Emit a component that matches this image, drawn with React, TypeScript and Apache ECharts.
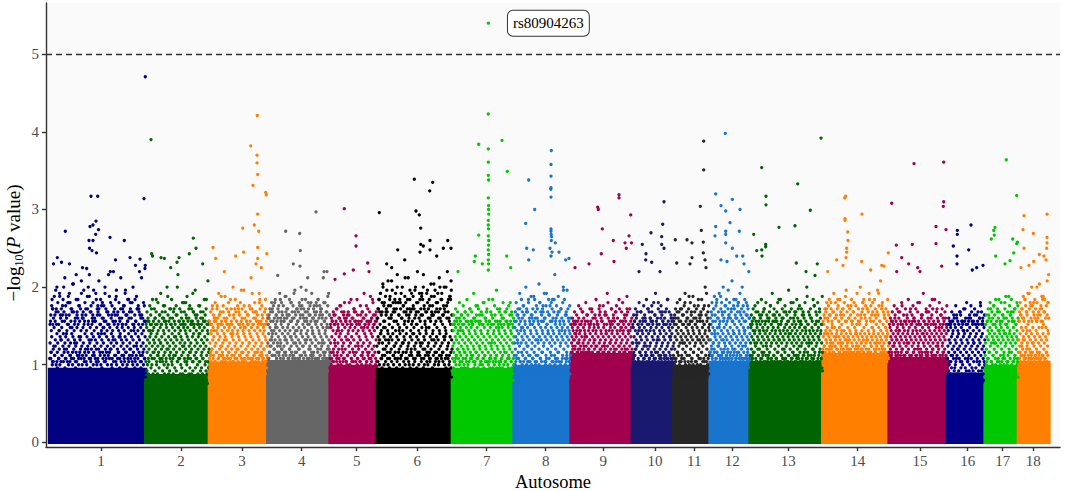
import React, { useEffect, useRef } from "react";
import * as echarts from "echarts";

// ---------- data ----------
const chrNames = ["1", "2", "3", "4", "5", "6", "7", "8", "9", "10", "11", "12", "13", "14", "15", "16", "17", "18"];
// relative chromosome lengths on the genome axis (axis units)
const chrLength = [96.2, 63.6, 58.4, 62.3, 46.7, 75.6, 61.7, 57, 61.3, 41, 36.7, 40, 72.7, 66.3, 58.3, 37.7, 33.3, 30.7];
// where each autosome label sits on the genome axis
const tickPos = [51.5, 131.5, 192.5, 252.2, 307.2, 367.8, 437.2, 496.2, 553.8, 605.5, 644.8, 682.8, 738.8, 808.2, 870.5, 918.2, 953.2, 983.8];
// height (-log10 P) up to which the SNP cloud is completely saturated
const bandTop = [0.96, 0.88, 1.04, 1.06, 1.0, 0.96, 0.96, 1.0, 1.15, 1.05, 1.0, 1.05, 1.05, 1.15, 1.1, 0.9, 1.0, 1.05];
// SNPs above the saturated band, in chromosome order; one character per SNP,
// character index in CODE_ALPHABET times 0.04 = -log10(P)
const CODE_ALPHABET = "0123456789ABCDEFGHIJKLMNOPQRSTUVWXYZabcdefghijklmnopqrstuvwxyz";
const cloudCodes = [
  "KMRTLPcQNKSVLhQOMKRaPNXLSfKQMUONRZLKTPjMQSKNbPLRMWKOTQgNLPSKMYRKPNeLQTNKSPMUoLRKOQXNKdPMSLRKUPNiQKMTLPZOKRNbSMQKTNPLsMRKNUPOKXQLMfSKPNRMTKOYLQKcPNSRMKTOLPkNQKUMRNKSPMaLOQKVNPRLhMKSOQKNTPMRuL",
  "IKNPJMQLaKOJRIMLTKNcJPKMSIOLQWKIRNJePMLKQJOIUMKNRhLKPJMSIOKYNJQLKbIRMPJOKMIVLQNjKPIRLMJOTKMJQNgKLIORJKPMLZIQNKOJMRKLdPINKMJQOT",
  "MOSQUNPRLaNQMTPOeRMSPNVQMOSRNXOMQPcNRMTPQNOMSPZQNMROPNUMQhOSNMPRQOTNbMPQONSMRPWNMOQPNRgMSOQNPMTOQRNkOMPSQNRUNPMQOSR",
  "NPRTVQOXSZPNUQSbORTWQPSNVRdOUQNRPTXQSOfPRQNUSPYTORPSQNRWOTaQNUPRSQhPOVQRNTPSOXQcPNRQUSOTRZSQPNRVOiQTNRQPSUOWPRQNSPTRObQNRPUS",
  "LNPRMOTQNWMOLQSNPaRMNLPOUMQRNeOMQLPSNXOMPLNRQOMTNgMOQNLPRVMONQLOPSMRNbLOMPQNTOLRNPMOQLSjNMOLPNQ",
  "KNQTWPMZRLOSKbPNUQgMLRPXKOTNeQMKSPVNRjLOQNKTaPMRSKNOWQLdPKTMRKNQPhOLUSKMPZNQRKcOLTNPKSWMQmNKORPUMLbQKPSNTQRMKfOLNXPKQRTNMKPQSoNLRKTQNMPYKOSLNRKPQMkOLU",
  "KMOQNLRPSKNUMKPQaLOMKRNPOTLMQKOPXKNMRLSdMKQONPLTKRNOKMVPQLNKPRMOKSQNgLKNPMQOLRWKMOKNPRLQSONKMbPOLQRKOMNPKTLQNMKPOMRNjLQOMNKP",
  "LNPQSMOWKRNMQOLTPbNQOLRNMPVQLSMOQNLPeRMONLQPSOMXNLPMORNQLTiOMLNPQROMZLNOPMLSQkNMOLPRNQMOTLQNMPOLaRNoMOLPNQSRNLOQMPR",
  "PRTVQSXUPZRQSTPWQUaRSPTQRVPYTQQSRPUTcQSPRTQSPXRQVSPQSRTfQPURSQPRTVQSZPQRSPTQWRPhSPRQTUQSRPRSQPVTQbRSPQRTSPUQRlQSPRTQRPSU",
  "NPRSOQUMWPORNQTPMSaOQNPROSMVQPNOQRPeMSOQPNRQOTNMXPQONRPSMQgNOPRNQSPMORNQPOYRMQPN",
  "LNPRQOMTLSNPOMQRLWNOMQPLOSNcMPOLNQRMPTOLQMNOPSLRXNPLMOQNRiOMNQLPOMSN",
  "NPSURQWOTZQNRTPVSObQRPNSTQXOURPQSNRTeQPWSNQPRUOZTQNRQSPiOTRPQSNRPVQOaRPNSQRTOQPS",
  "NPRQSOTMPWORNQPUSMOaQNPROSMTQNPOVNQRSMOPNQROPdMSQNOPRNQTMXPOQNSPROMUQNRPOQNSMZOPNQPROTMSgNOQRPNSMVOQPNQROSMTPbQONRPSMWQNOPRNQUMSOPNQPORYMTQNPRON",
  "PRTVQSXUPZSQUTPWRVbQTPRSVQYUPRQSTPRWUaSQRTPSQVXPUTSQRPUTdQSRPTSQRVZPUSQRTPSWQUhRTQSPRUXQTSPRQSTVQbPRSQTPUWRQSmQRPSTVQUPRTSQPRYQSTR",
  "OQSPRTNVOQPRNSQXOTPaQOSPRUNQORPSOQTNWROPQRNOSPdQTOPNQRSOUPQNRSOPQTNZORPQOSNRTPgQOQRPSNUOQRNPSQORVPbOQRPONSTQROPQSNO",
  "JLNPKMQOJSLKNOPJRMUKNLJQOKMPaLKMOJNLQRKNPJLMOKNWLJMOKQJLNPeKLNJOMKQP",
  "LNPQMORLTNOMQLPSNWMOPLNQORMaNPMOQLNSPRMZNLPOQMTNfLOPMQNLRSOMNPQL",
  "NPRTQOVSNXOQSPRNUaPQRNOTQSPWNRPQOSNRdTOQSPNQRObPSNQROPNTQSjP",
];
// a second, higher-lying sweep of SNPs along each autosome (same coding)
const cloudCodesUpper = [
  "RWdTaYkQhUVbSfXnPcZTWgRaUlYeQXbSiVZoTdWRYfUaQjXcVmSbWhRZgTYpUaXdQVkWbSecRYiTXUaqVfSbWnRdZUhQaYlVcTXsWbRgUZeSjYTaVdXmQbWfRZUhYcSkVaXeTbWiQZoUdRYaVgSXcTbUjWZfRaYtVcSXdQlWbUgTaYeRZhVXSbcWiUaQYnfTXVdRbZeSWjUaYgQcXTVbRkZdSWhUaYcTXfQbVrZSeWaUiRYd",
  "QVbTXdRaUWYcSZhPVaTXbRWeUYkQZSVaTXfRbWcUYgQVaSZiTXdRbUWlPYaSVeTXcQZbRWUhYaSVfTXoQbRZdUWaYgSXVcTbjRWaUZeQYbSXhVTaRWdUcYmQZbSVfXTaRWcUYiQbZVeSXTaRgWUbYdQVkSXaZcTU",
  "RWcTZaUhXbSYdVQeWaTiZbRXfUYcSlVaTWgQZbRYdUXeSaVjTbWcRZhUYaQXfSbVkTWdRZaUYgXcSbVnTeWaQZiRYbUXdScVfTaWZhRYbUmQXcSVaTeWgRZbUYdXjSaVcTWfRZbUaQYhXcSVe",
  "WcZeTbXgVaYhSdWaUjXcZfRbVeYiTaXkWcUgZbSdVeYaTlXhWbZcRfUaYjVdXeSbWmZgTaYcVhRdXbUiWfZaSkYcVeTbXgWnZdRaYhUcVfXjSbWaZeTiYdVcXgRbUkWaZfShYcVeXbTjWdZaRgYcUlVbXfT",
  "RWbTYdQaUfSXcVZhRaTWbUYeQZiSXaVcTWgRbUYdQXfSZaVjTbWcRYeUaQXhSbVdTZkRWaUYcQXfSbVgTaWeRZcUYiQXbSVdTaWlRZeUYbScVaTfRXd",
  "VbeYhTkXcmZaRgWpUdYjSbXfVnTaZiWcRlYeUqXbZgSdVkTaWhYoRcXfUbZjVmSeWaTiYcXrRgZbUkVdWfSnYaTcXhZlRbVeUoWgYcSjXaTmZdVfRbWkUsYhXcSaZgTnVeWbRiYdUlXfZaSpVcTgWjYbRmXeUaZhVdSkWcTfYoXbRaZiUtVgWeSlYcTnXa",
  "RVaTWcQYbSXdUZaRWeTYbSVfQXaUZcTWgRYbSVdUXaQZhTWbRYcSVeUXaQZiTWbRYdSVfUXaQZcTWjRYbSVeUXgQZaTWdRYbSVcUXkQZaTWfRYbSVdUXaQZhTWcRYbSVeUXaQZgTWdRYbSVcUXaQZfTWbRY",
  "SWbUYdRaXfTZcVhQaWbYeSXiUaZcRWgTYbVkQXdSaZfUWcRYlTbVeXaQZhSWcUYjRbXdTaZgVWeQYbSmXcUaZfRWiTYbVdXaQZkSWcUeYbRXgTaZdVWhQYbSXnUcZaRWfTYbVeXaQZcS",
  "TWYbUaXcSZVdRYaTWbUeXZaSVcTYgRWbUXaZdSVYTfRWaUbXZcSVhTYaRWbUXeZaSVcTYbRWiUXaZdSVTYbRWfUXaZcSVjTYaRWbUXdZaSVeTYbRWgUXaZcSVkTYaRWbUXdZaSVfTYbRWhUXaZcSVaTYbRW",
  "RWbTYdSaUXfVZcQaWbTYgSXaUZdRVbWeTYaSXhUZcRVaWbTiYdSXaUZfRVbWcTYjSXaUZeRVbWdTYaSXgUZcRVkWbTYaSXeUZbRV",
  "SWcUYeRaXgTZbVdQWhYaSXfUZcRWjTYbVeXaQZlSWdUYgRbXaTZiVcWeQYbSXkUaZdRWfTYbVhXcQZaSWmUYeRbXaT",
  "TXcVZfSbWhUaYdRXjTbZeVWcSYlUaXgRZdTbWiVYcSXaUnZfRWbTYhVdXaSkZcUWeRYbTXjVaZgSWcUYoRXbTdZaVWfSYiUbXeRZ",
  "SWbUYcRaXeTZaVdQWbYgSXaUZcRWfTYbVaXhQZdSWaUYbRXeTZiVcWaQYbSXfUZaRWdTYbVkXaQZcSWeUYaRXbTZgVcWaQYdSXbUZjRWaTYeVXbQZcSWaUYhRXbTZdVcWaQYfSXbUZaRWlTYcVXaQZeSWbUYaRXiTZcVdWaQYbSXgUZaRWcT",
  "UYcVZeTaXhWbZdSYfVaXjUZcRWgTYbVXeSZaUkWdYbTXfVZcRWhUYaSXlTZdVWbYeUXaRZiTWcVYgSXbUZaRWmTYdVXcSZfUWaYjTXbVZeRWcYhSXaUZkTWdVYbXgRZaUWfTYcVXnSZbUWdYaTXiVZcRWeUYbSXaTZgVW",
  "TWbUYaSXdRZcVWeTYaUXbSZgRWaVYcTXiUZbSWaRYdVXfTZaUWbSYhRXcVZaTWeUYbSXaRZjVWcTYaUXfSZbRWdVYaTXgUZcSWbRYaVXeTZkUWcSYaRXbVZhTWdUYaSXfRZbVWcTYaUXeSZbR",
  "RVaTXcQWbSYdUZaRVeTXbQWfSYaUZcRVgTXbQWdSYaUZhRVcTXaQWeSYbUZiRVdTXaQWfSYcUZbRVgTXaQWjSYcUZeRVbTX",
  "SWcUYdRaXfTZbVhQWaYeSXiUZcRWbTYgVaXkQZdSWbUYfRXaTZjVcWeQYbSXlUZaRWgTYdVXbQZhSWcUYaRXe",
  "TXdVZfSbWhUaYeRXkTbZgVWcSYmUaXiRZdTbWjVYeSXaUoZfRWbTYhVdXlSkZcUWgRYbTXqVaZe",
];
// the sparse top of the cloud: a third sweep of SNPs (same coding)
const cloudCodesTop = [
  "cfiheldgojcmfhdkgrieclfjdhpgcesfkidhmegcjfuhdlgicfnedkhgqfcijedmhgcflteidghknfcjdrehgimcfdkghejocfdlhigxefcjdv",
  "cgedifckdhegcjdfmceidgcofdhckegdcifsdhcejdgcfldeichdgcnefdcigcedkfhcqd",
  "dgcifejdhcmfgdcieldhcgfkdcoehgdicfjdhcnegdfcidrhcejgdfcmhdiecgkdf",
  "efhdjgiekfdhgmejfidlgehfkdjgienfhdgjeoifhdkegjfidmehgfjdkeighfrdjegimf",
  "cedgcfdhceidgcfjdecgfdkcehdgcfdcidgemcfdhcgdekfcdg",
  "ehkgmfjoidlhgqekifnjhgmdsjfkheoigljfhrekgmdihnfjtgekhlfoidgmjhkepgiflndhjgrekmfihgoejkdlqf",
  "cfdhegcjdfciegdkfchdgcmedfihcdgfcjedhckdgfecidnhcgdfejcgdhcifdgce",
  "dgjfhemdkgifdohgjeclfhdkgiedpjgfhdmeicgkfdjhegsdiflgchejdkfgnhdie",
  "cedgcfdichdgecjfdchdgecfkdchgedicgfmedchcfdgiechdgjcedfgchde",
  "cfdhegcjdgceifdkchgedgcjfmdehcgifdcechkdgcfde",
  "dfhcjegkdhcfimdgehcjfdlegchdifegkdhcofdgic",
  "egjdhlfikegmdhjfoegikdhfjegqdihfkegjdmfheigkdjfhte",
  "cfdheigcjdfekdghcjfedgicmfhdegjcfkdhegicfdngehcjdfgkedichfgejdocgfhedkicgfjdhecl",
  "dfhgjeikfhdgmejfhidkgehfjdngiehfkdgjeicfhdoegjkfidhgmeifjdkhegfidqhjgfehdkf",
  "cedgcifdhcegdjcfdhcekdgcfiedhcgdjcefmdchgedicfhdkcgedjcfhedgci",
  "cedcgdfciedcgfdchdejcdfegcdhcfdceigdcf",
  "cfdhejdgcifkdhegcjdfehlcgdifkegdhcji",
  "dgjfheldkigfmdhjeoigfkhdjegpfihdlgkeifjs",
];
// stand-out SNPs: [autosome, position within autosome, -log10(P)]
const peaks: [number, number, number][] = [
  [1, 95.8, 4.71], [1, 94.5, 3.14], [1, 41.5, 3.17], [1, 48.2, 3.17], [1, 46.5, 2.85], [1, 40.5, 2.78], [1, 43.5, 2.8], [1, 49, 2.74],
  [1, 46.2, 2.68], [1, 15.8, 2.72], [1, 60.5, 2.64], [1, 74.8, 2.6], [1, 39.5, 2.6], [1, 43.5, 2.6], [1, 40, 2.5], [1, 42.5, 2.47],
  [1, 47, 2.44], [1, 7.8, 2.38], [1, 80.5, 2.38], [1, 4, 2.3], [1, 12, 2.32], [1, 20, 2.3], [1, 66, 2.35], [1, 86, 2.28], [1, 90, 2.2], [1, 33, 2.25],
  [2, 5.3, 3.9], [2, 47.6, 2.63], [2, 50.3, 2.5], [2, 6, 2.43], [2, 6.8, 2.4], [2, 15.3, 2.38], [2, 18.6, 2.37], [2, 43.6, 2.43],
  [2, 31.3, 2.32], [2, 33.3, 2.38], [2, 57, 2.3], [2, 25, 2.25],
  [3, 48, 4.21], [3, 41.4, 3.82], [3, 47.7, 3.7], [3, 47.7, 3.6], [3, 48.4, 3.45], [3, 43.7, 3.31], [3, 56.4, 3.22], [3, 57, 3.19],
  [3, 48.4, 2.94], [3, 45, 2.8], [3, 49.4, 2.72], [3, 33.4, 2.76], [3, 3.7, 2.51], [3, 6.4, 2.37], [3, 48.4, 2.51], [3, 57.5, 2.43],
  [3, 26.4, 2.4], [3, 34.4, 2.45], [3, 48.4, 2.37], [3, 46.7, 2.3], [3, 52, 2.25], [3, 15, 2.2],
  [4, 18, 2.72], [4, 32, 2.69], [4, 32.6, 2.47], [4, 25.6, 2.3], [4, 32.3, 2.27], [4, 48.3, 2.97], [4, 56.3, 2.2], [4, 59.3, 2.2], [4, 10, 2.15], [4, 40, 2.12],
  [5, 14.3, 3.01], [5, 26, 2.66], [5, 26, 2.53], [5, 37.7, 2.31], [5, 39, 2.2], [5, 23.3, 2.22], [5, 14.3, 2.17], [5, 5, 2.1],
  [6, 2.6, 2.96], [6, 37.6, 3.39], [6, 56, 3.35], [6, 53, 3.24], [6, 39.3, 2.98], [6, 42.6, 2.93], [6, 44, 2.76], [6, 71, 2.6],
  [6, 44, 2.55], [6, 46.6, 2.53], [6, 53.3, 2.6], [6, 21, 2.48], [6, 66.6, 2.5], [6, 74.3, 2.5], [6, 53.3, 2.48], [6, 43.3, 2.45],
  [6, 10, 2.3], [6, 28, 2.35], [6, 60, 2.4], [6, 15, 2.25],
  [7, 36, 4.23], [7, 36, 3.78], [7, 36, 3.61], [7, 36, 3.44], [7, 36.3, 3.38], [7, 36, 3.15], [7, 36.2, 3.05], [7, 36.2, 3.0],
  [7, 36.4, 2.94], [7, 36, 2.86], [7, 36, 2.8], [7, 36.2, 2.75], [7, 36, 2.66], [7, 36.4, 2.6], [7, 36.2, 2.54], [7, 36, 2.48],
  [7, 36.3, 2.42], [7, 36, 2.35], [7, 36.2, 2.3], [7, 36, 2.22], [7, 26.4, 3.84], [7, 49.7, 3.89], [7, 55, 3.49], [7, 26.4, 2.67],
  [7, 23, 2.4], [7, 22, 2.33], [7, 54.4, 2.4], [7, 58.4, 2.25], [7, 5.7, 2.2], [7, 30, 2.3],
  [8, 37.3, 3.76], [8, 37, 3.58], [8, 37, 3.43], [8, 37, 3.28], [8, 36.8, 3.26], [8, 37, 3.16], [8, 37, 2.75], [8, 37, 2.72],
  [8, 37.2, 2.68], [8, 37.5, 2.65], [8, 37.3, 2.6], [8, 14.7, 3.38], [8, 20.7, 3.0], [8, 11.7, 2.82], [8, 41.3, 2.57], [8, 12.7, 2.5],
  [8, 14.7, 2.35], [8, 19.3, 2.48], [8, 45, 2.45], [8, 51.7, 2.35], [8, 55, 2.37], [8, 36, 2.5], [8, 38, 2.45], [8, 37, 2.4],
  [9, 48, 3.19], [9, 48, 3.15], [9, 26.7, 3.03], [9, 27.3, 3.0], [9, 59.7, 2.93], [9, 31.3, 2.75], [9, 58, 2.66], [9, 42.3, 2.6],
  [9, 54, 2.57], [9, 60.5, 2.57], [9, 55.3, 2.5], [9, 30.3, 2.43], [9, 4, 2.25], [9, 18, 2.3], [9, 43, 2.33],
  [10, 31.7, 3.1], [10, 30.4, 2.81], [10, 18.7, 2.7], [10, 29.4, 2.65], [10, 29.4, 2.55], [10, 31.7, 2.5], [10, 10, 2.55],
  [10, 13.7, 2.43], [10, 13.4, 2.35], [10, 19.4, 2.32], [10, 6.7, 2.2], [10, 27.7, 2.2],
  [11, 30.4, 3.88], [11, 30.4, 3.51], [11, 27, 3.04], [11, 28, 2.73], [11, 30, 2.58], [11, 30, 2.44], [11, 2, 2.61], [11, 13.7, 2.61],
  [11, 18.7, 2.57], [11, 18.7, 2.38], [11, 3.4, 2.31], [11, 16.7, 2.3], [11, 31.7, 2.35], [11, 32.7, 2.25],
  [12, 15.3, 3.98], [12, 5.7, 3.2], [12, 22.3, 3.13], [12, 11, 3.05], [12, 30, 3.0], [12, 15.7, 2.98], [12, 20, 2.83], [12, 5.7, 2.78],
  [12, 15.7, 2.72], [12, 15.7, 2.68], [12, 29.3, 2.72], [12, 5, 2.66], [12, 15.7, 2.57], [12, 22.3, 2.5], [12, 26.7, 2.4],
  [12, 32.7, 2.4], [12, 11, 2.35], [12, 17, 2.33], [12, 34, 2.3],
  [13, 11.7, 3.54], [13, 47.7, 3.33], [13, 16, 3.17], [13, 16, 3.06], [13, 60.3, 2.99], [13, 71, 3.92], [13, 29, 2.77], [13, 45, 2.79],
  [13, 3.7, 2.68], [13, 15.7, 2.55], [13, 15.7, 2.52], [13, 11.7, 2.48], [13, 6.7, 2.47], [13, 46.3, 2.31], [13, 67.3, 2.3],
  [13, 12, 2.4], [13, 56, 2.2], [13, 65, 2.15],
  [14, 23, 3.17], [14, 22, 3.15], [14, 22.3, 2.88], [14, 22.3, 2.86], [14, 39.3, 2.94], [14, 25, 2.71], [14, 25.3, 2.6], [14, 24, 2.5],
  [14, 24, 2.45], [14, 65.6, 2.44], [14, 14, 2.35], [14, 39, 2.33], [14, 59, 2.28], [14, 61.3, 2.27], [14, 23.3, 2.38], [14, 20.3, 2.28],
  [14, 5, 2.2], [14, 48, 2.22],
  [15, 25, 3.59], [15, 54.7, 3.61], [15, 2.7, 3.08], [15, 54.7, 3.1], [15, 54.3, 3.04], [15, 47, 2.78], [15, 57, 2.74], [15, 23.3, 2.55],
  [15, 7.3, 2.54], [15, 47, 2.56], [15, 12.7, 2.38], [15, 19.7, 2.3], [15, 52.7, 2.27], [15, 7.7, 2.2], [15, 28.7, 2.25], [15, 31, 2.2],
  [16, 10, 2.73], [16, 23.7, 2.8], [16, 10, 2.68], [16, 6, 2.53], [16, 21.4, 2.48], [16, 9.7, 2.4], [16, 35.7, 2.28], [16, 25, 2.22],
  [16, 29.4, 2.25], [16, 9.7, 2.3],
  [17, 21.3, 3.64], [17, 31.7, 3.18], [17, 10, 2.77], [17, 8.7, 2.73], [17, 9.3, 2.67], [17, 6.3, 2.62], [17, 27.7, 2.62],
  [17, 32.5, 2.58], [17, 31.7, 2.56], [17, 28.7, 2.44], [17, 10.7, 2.4], [17, 25, 2.34], [17, 20, 2.3],
  [18, 28.7, 2.94], [18, 5.7, 2.92], [18, 4.7, 2.74], [18, 15, 2.69], [18, 28.7, 2.64], [18, 28.7, 2.57], [18, 28.4, 2.5], [18, 5.7, 2.5],
  [18, 21, 2.42], [18, 15.4, 2.33], [18, 25.7, 2.4], [18, 27.7, 2.35], [18, 2.7, 2.25], [18, 10.7, 2.28],
];
const topSnpChr = 7;
const topSnpPos = 36;
const topSnpValue = 5.4;
const topSnpName = "rs80904263";
const threshold = 5;
const yTicks = [0, 1, 2, 3, 4, 5];

// ---------- styles ----------
const chrColors = [
  "#000080", "#006400", "#FF7F00", "#666666", "#A0004E", "#000000", "#00C800", "#1874CD", "#A0004E",
  "#191970", "#262626", "#1874CD", "#006400", "#FF7F00", "#A0004E", "#00008B", "#00C800", "#FF7F00",
];
const SERIF = "Liberation Serif";
const DOT = 3.3;

function buildOption() {
  const starts: number[] = [];
  let acc = 0;
  chrLength.forEach((len) => {
    starts.push(acc);
    acc += len;
  });

  const bands = chrLength.map((len, i) => [starts[i], starts[i] + len, bandTop[i], i]);

  const cloud: number[][] = [];
  const addSweep = (list: string[]) =>
    list.forEach((codes, c) => {
      const n = codes.length;
      for (let i = 0; i < n; i++) {
        const v = CODE_ALPHABET.indexOf(codes[i]) * 0.04;
        cloud.push([starts[c] + ((i + 0.5) / n) * chrLength[c], v, c]);
      }
    });
  addSweep(cloudCodes);
  addSweep(cloudCodesUpper);
  addSweep(cloudCodesTop);
  peaks.forEach(([chr, pos, v]) => {
    cloud.push([starts[chr - 1] + pos, v, chr - 1]);
  });

  const nearestName = (value: number) => {
    let best = 0;
    tickPos.forEach((t, i) => {
      if (Math.abs(t - value) < Math.abs(tickPos[best] - value)) best = i;
    });
    return chrNames[best];
  };

  const axisLineStyle = { color: "#333333", width: 1.4 };

  return {
    animation: false,
    grid: {
      left: 46, right: 5, top: 3, bottom: 44, show: true, backgroundColor: "#FAFAFA", borderWidth: 0,
      containLabel: false, outerBoundsMode: "none",
    },
    xAxis: {
      type: "value",
      min: -3.5,
      max: 1010.5,
      splitLine: { show: false },
      axisLine: { show: true, onZero: false, lineStyle: axisLineStyle },
      axisTick: { show: true, customValues: tickPos, length: 4, lineStyle: axisLineStyle },
      axisLabel: {
        customValues: tickPos,
        formatter: (v: number) => nearestName(v),
        color: "#4D4D4D",
        fontSize: 15,
        fontFamily: SERIF,
        margin: 6,
      },
      name: "Autosome",
      nameLocation: "middle",
      nameGap: 25,
      nameTextStyle: { fontSize: 18.5, color: "#000000", fontFamily: SERIF },
    },
    yAxis: {
      type: "value",
      min: -0.06,
      max: 5.66,
      splitLine: { show: false },
      axisLine: { show: true, onZero: false, lineStyle: axisLineStyle },
      axisTick: { show: true, customValues: yTicks, length: 4, lineStyle: axisLineStyle },
      axisLabel: { customValues: yTicks, color: "#4D4D4D", fontSize: 15, fontFamily: SERIF, margin: 7 },
    },
    graphic: [
      {
        type: "text",
        x: 13,
        y: 243,
        rotation: Math.PI / 2,
        style: {
          text: "{a|−log}{s|10}{a|(}{i|P}{a| value)}",
          align: "center",
          verticalAlign: "middle",
          rich: {
            a: { fontSize: 19, fontFamily: SERIF, fill: "#000", lineHeight: 24, verticalAlign: "middle" },
            s: { fontSize: 12, fontFamily: SERIF, fill: "#000", lineHeight: 12, verticalAlign: "bottom" },
            i: { fontSize: 19, fontFamily: SERIF, fontStyle: "italic", fill: "#000", lineHeight: 24, verticalAlign: "middle" },
          },
        },
      },
    ],
    series: [
      {
        type: "custom",
        silent: true,
        z: 1,
        data: bands,
        encode: { x: [0, 1], y: 2 },
        renderItem: (params: any, api: any) => {
          const p0 = api.coord([api.value(0), 0]);
          const p1 = api.coord([api.value(1), api.value(2)]);
          const r = DOT / 2;
          return {
            type: "rect",
            shape: { x: p0[0] - r, y: p1[1], width: p1[0] - p0[0] + 2 * r, height: p0[1] - p1[1] + r },
            style: { fill: chrColors[api.value(3)] },
          };
        },
      },
      {
        type: "scatter",
        silent: true,
        z: 2,
        symbolSize: DOT,
        data: cloud,
        itemStyle: { color: (p: any) => chrColors[p.value[2]], opacity: 1 },
        markLine: {
          silent: true,
          symbol: "none",
          label: { show: false },
          lineStyle: { type: [6, 4], color: "#333333", width: 1.4 },
          data: [{ yAxis: threshold }],
        },
      },
      {
        type: "scatter",
        silent: true,
        z: 3,
        symbolSize: DOT,
        data: [[starts[topSnpChr - 1] + topSnpPos, topSnpValue]],
        itemStyle: { color: chrColors[topSnpChr - 1], opacity: 1 },
        label: {
          show: true,
          position: "right",
          distance: 18,
          formatter: topSnpName,
          fontFamily: SERIF,
          fontSize: 15,
          lineHeight: 17,
          color: "#000000",
          backgroundColor: "#FFFFFF",
          borderColor: "#333333",
          borderWidth: 1,
          borderRadius: 5,
          padding: [4, 5, 4, 5],
        },
      },
    ],
  };
}

export default function App() {
  const ref = useRef<HTMLDivElement>(null);
  useEffect(() => {
    if (!ref.current) return;
    const chart = echarts.init(ref.current, undefined, { renderer: "svg" });
    chart.setOption(buildOption() as any);
    return () => chart.dispose();
  }, []);
  return <div ref={ref} style={{ position: "absolute", left: 0, top: 0, width: 1065, height: 491, background: "#FFFFFF" }} />;
}
